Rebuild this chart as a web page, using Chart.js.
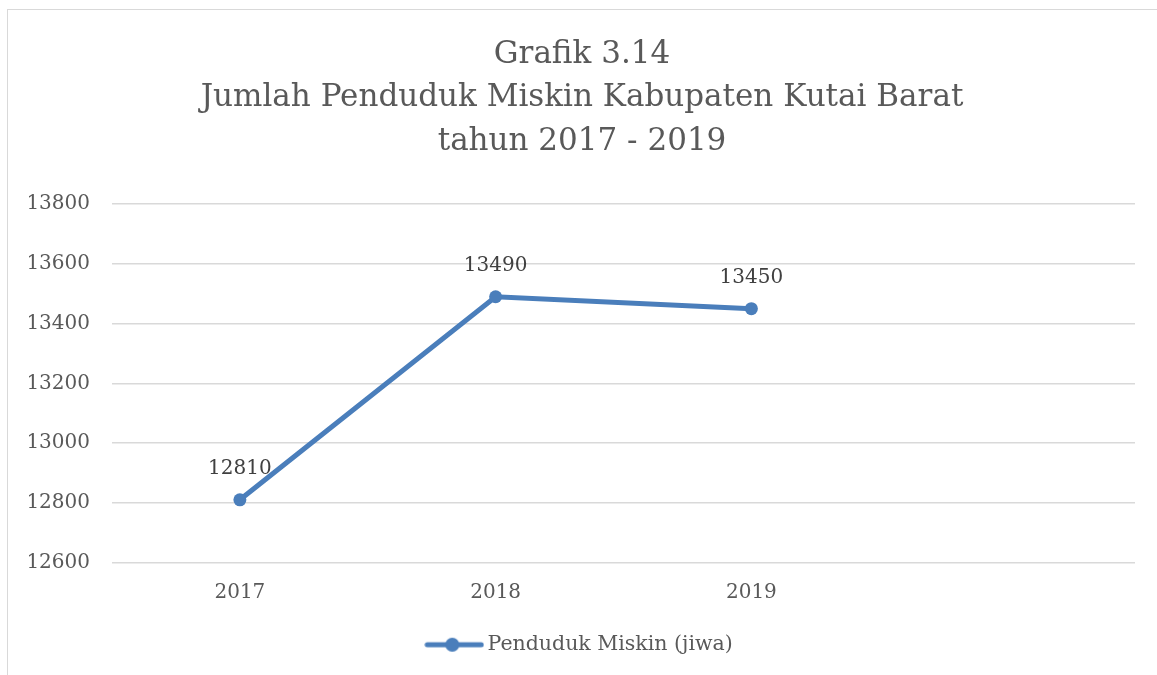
<!DOCTYPE html>
<html>
<head>
<meta charset="utf-8">
<script src="https://cdn.jsdelivr.net/npm/chart.js@4.4.1/dist/chart.umd.min.js"></script>
<style>
  html, body { margin: 0; padding: 0; background: #fff; }
  #frame { position: absolute; left: 7px; top: 9px; width: 1200px; height: 700px;
           border-left: 1px solid #d9d9d9; border-top: 1px solid #d9d9d9; }
  #myChart { position: absolute; left: 0; top: 0; }
</style>
</head>
<body>
<div id="frame"></div>
<canvas id="myChart" width="1157" height="675"></canvas>
<script>
const years = ['2017', '2018', '2019', ''];
const pendudukMiskin = [12810, 13490, 13450, null];
const yTicks = { min: 12600, max: 13800, step: 200 };
const titleLines = ['Grafik 3.14', 'Jumlah Penduduk Miskin Kabupaten Kutai Barat', 'tahun 2017 - 2019'];

const FONT = "'DejaVu Serif', serif";
const LINE_BLUE = '#4a7ebb';

// legend marker: line with a dot in the middle
const marker = document.createElement('canvas');
marker.width = 60;
marker.height = 16;
(function () {
  const c = marker.getContext('2d');
  c.strokeStyle = LINE_BLUE;
  c.lineWidth = 5;
  c.lineCap = 'round';
  c.beginPath();
  c.moveTo(3, 8);
  c.lineTo(57, 8);
  c.stroke();
  c.fillStyle = LINE_BLUE;
  c.beginPath();
  c.arc(28, 8, 7, 0, Math.PI * 2);
  c.fill();
})();

const valueLabels = {
  id: 'valueLabels',
  afterDatasetsDraw(chart) {
    const ctx = chart.ctx;
    const meta = chart.getDatasetMeta(0);
    ctx.save();
    ctx.font = '20px ' + FONT;
    ctx.fillStyle = '#404040';
    ctx.textAlign = 'center';
    ctx.textBaseline = 'middle';
    meta.data.forEach((pt, i) => {
      const v = chart.data.datasets[0].data[i];
      if (v == null) return;
      ctx.fillText(String(v), pt.x, pt.y - 31);
    });
    ctx.restore();
  }
};

const config = {
  type: 'line',
  data: {
    labels: years,
    datasets: [{
      label: 'Penduduk Miskin (jiwa)',
      data: pendudukMiskin,
      borderColor: LINE_BLUE,
      backgroundColor: LINE_BLUE,
      borderWidth: 5,
      pointRadius: 6.5,
      pointHoverRadius: 6.5,
      pointBorderWidth: 0,
      pointStyle: 'circle',
      tension: 0
    }]
  },
  options: {
    responsive: false,
    animation: false,
    layout: { padding: { left: 29, right: 22, top: 33, bottom: 10 } },
    plugins: {
      title: {
        display: true,
        text: titleLines,
        color: '#595959',
        font: { family: FONT, size: 31, weight: 'normal', lineHeight: 1.4 },
        padding: { top: 0, bottom: 41 }
      },
      legend: {
        position: 'bottom',
        labels: {
          usePointStyle: true,
          pointStyle: marker,
          pointStyleWidth: 46,
          color: '#595959',
          font: { family: FONT, size: 20.5 },
          padding: 19,
          generateLabels(chart) {
            return [{
              text: chart.data.datasets[0].label,
              pointStyle: marker,
              fillStyle: LINE_BLUE,
              strokeStyle: LINE_BLUE,
              lineWidth: 0,
              fontColor: '#595959',
              datasetIndex: 0
            }];
          }
        }
      },
      tooltip: { enabled: false }
    },
    scales: {
      x: {
        offset: true,
        grid: { display: false },
        border: { display: false },
        ticks: { color: '#595959', font: { family: FONT, size: 20 }, padding: 10.5 }
      },
      y: {
        min: yTicks.min,
        max: yTicks.max,
        grid: { color: '#d9d9d9', lineWidth: 1.5, drawTicks: false },
        border: { display: false },
        afterFit: (scale) => { scale.width = 83; },
        ticks: {
          stepSize: yTicks.step,
          color: '#595959',
          font: { family: FONT, size: 20 },
          padding: 22,
          callback: (v) => String(v)
        }
      }
    }
  },
  plugins: [valueLabels]
};

const myChart = new Chart(document.getElementById('myChart'), config);
</script>
</body>
</html>
